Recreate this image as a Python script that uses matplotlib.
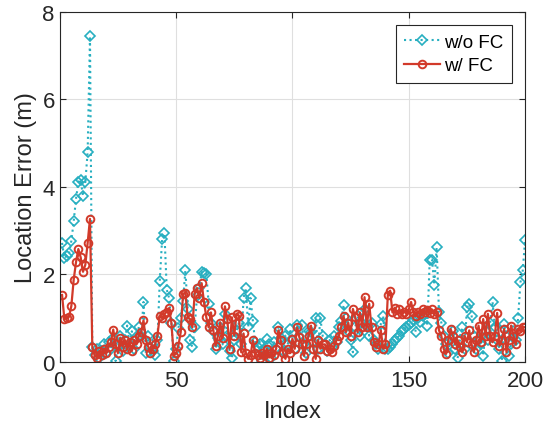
import numpy as np
import matplotlib.pyplot as plt

plt.rcParams['font.family'] = ['Liberation Sans', 'DejaVu Sans']

idx = np.arange(1, 201)

# location error without fusion correction
err_wo = [2.72, 2.37, 2.42, 2.48, 2.77, 3.21, 3.73, 4.11, 4.16, 3.79,
          4.11, 4.80, 7.45, 0.34, 0.15, 0.30, 0.10, 0.25, 0.40, 0.20,
          0.45, 0.30, 0.55, 0.02, 0.35, 0.60, 0.25, 0.50, 0.83, 0.40,
          0.70, 0.30, 0.55, 0.80, 0.60, 1.37, 0.20, 0.60, 0.35, 0.25,
          0.15, 0.50, 1.86, 2.81, 2.94, 1.65, 1.46, 0.90, 0.02, 0.30,
          0.78, 1.00, 1.40, 2.09, 1.20, 0.49, 0.34, 0.80, 1.50, 1.70,
          2.05, 2.04, 2.02, 1.33, 0.90, 0.70, 0.30, 0.55, 0.80, 0.40,
          1.10, 0.60, 0.25, 0.08, 0.50, 0.70, 0.90, 0.40, 1.46, 1.69,
          0.79, 1.46, 0.94, 0.45, 0.35, 0.40, 0.02, 0.30, 0.52, 0.40,
          0.10, 0.45, 0.30, 0.79, 0.55, 0.25, 0.60, 0.40, 0.75, 0.50,
          0.30, 0.85, 0.60, 0.85, 0.40, 0.20, 0.70, 0.69, 0.45, 1.00,
          0.30, 1.00, 0.60, 0.40, 0.25, 0.50, 0.35, 0.60, 0.45, 0.80,
          0.93, 1.30, 1.00, 0.70, 0.50, 0.22, 0.80, 1.05, 0.60, 0.90,
          1.21, 0.85, 0.60, 0.90, 0.50, 0.40, 0.30, 0.87, 1.06, 0.30,
          0.30, 0.35, 0.40, 0.50, 0.55, 0.60, 0.70, 0.75, 0.80, 0.85,
          0.90, 0.95, 0.69, 1.00, 0.91, 1.05, 1.10, 0.82, 2.32, 2.34,
          1.76, 2.62, 1.13, 0.90, 0.60, 0.40, 0.20, 0.52, 0.70, 0.30,
          0.08, 0.50, 0.79, 0.30, 1.25, 1.33, 1.06, 0.60, 0.30, 0.50,
          0.40, 0.14, 0.70, 0.50, 0.90, 1.38, 0.80, 0.50, 0.30, 0.02,
          0.87, 0.60, 0.14, 0.40, 0.70, 0.50, 1.00, 1.82, 2.09, 2.78]

# location error with fusion correction
err_w = [1.53, 0.98, 1.00, 1.03, 1.28, 1.88, 2.28, 2.58, 2.39, 2.06,
         2.22, 2.72, 3.27, 0.34, 0.15, 0.10, 0.25, 0.15, 0.30, 0.20,
         0.35, 0.45, 0.74, 0.40, 0.20, 0.55, 0.35, 0.50, 0.30, 0.45,
         0.25, 0.50, 0.40, 0.60, 0.68, 0.95, 0.50, 0.35, 0.20, 0.30,
         0.40, 0.60, 1.06, 1.00, 1.09, 1.15, 1.23, 0.89, 0.14, 0.20,
         0.37, 0.68, 1.56, 1.58, 1.02, 0.98, 0.79, 1.56, 1.69, 1.46,
         1.80, 1.37, 1.02, 0.79, 1.13, 0.73, 0.37, 0.60, 0.90, 0.55,
         1.27, 0.98, 0.30, 1.02, 0.60, 1.10, 1.06, 0.22, 0.65, 0.20,
         0.07, 0.15, 0.49, 0.20, 0.15, 0.10, 0.20, 0.15, 0.30, 0.10,
         0.20, 0.15, 0.30, 0.72, 0.49, 0.20, 0.07, 0.30, 0.20, 0.53,
         0.30, 0.79, 0.56, 0.40, 0.14, 0.40, 0.60, 0.83, 0.30, 0.07,
         0.50, 0.30, 0.40, 0.40, 0.25, 0.30, 0.22, 0.37, 0.50, 0.60,
         0.80, 1.05, 0.68, 0.90, 0.60, 1.21, 1.02, 0.68, 1.13, 0.80,
         1.48, 0.79, 1.33, 0.79, 0.45, 0.34, 0.40, 0.72, 0.30, 0.40,
         1.52, 1.63, 1.13, 1.24, 1.09, 1.20, 1.09, 1.15, 1.10, 1.20,
         1.37, 1.13, 1.06, 1.13, 1.10, 1.20, 1.15, 1.18, 1.12, 1.20,
         1.10, 1.15, 0.72, 0.60, 0.30, 0.18, 0.50, 0.75, 0.60, 0.40,
         0.50, 0.35, 0.22, 0.60, 0.45, 0.72, 0.40, 0.22, 0.50, 0.83,
         0.45, 0.98, 0.60, 1.10, 0.60, 0.45, 0.60, 1.12, 0.37, 0.50,
         0.75, 0.22, 0.50, 0.83, 0.60, 0.40, 0.75, 0.70, 0.80, 0.79]

blue = '#27AFC0'
red = '#D23A2A'
txt = '#262626'

fig = plt.figure(figsize=(5.43, 4.31), dpi=100)
ax = fig.add_axes([0.110, 0.158, 0.857, 0.812])

ax.plot(idx, err_wo, ':', color=blue, lw=1.5, marker='D', ms=5,
        mfc='none', mew=1.2, label='w/o FC')
ax.plot(idx, err_w, '-', color=red, lw=1.6, marker='o', ms=5.5,
        mfc='none', mew=1.4, label='w/ FC')

ax.set_xlim(0, 200)
ax.set_ylim(0, 8)
ax.set_xticks([0, 50, 100, 150, 200])
ax.set_yticks([0, 2, 4, 6, 8])
ax.grid(True, color='#dfdfdf', lw=0.8)
ax.set_axisbelow(True)
ax.tick_params(direction='in', length=4, labelsize=16, colors=txt,
               top=True, right=True)
ax.tick_params(axis='x', pad=6)
for s in ax.spines.values():
    s.set_color(txt)
    s.set_linewidth(0.8)

ax.set_xlabel('Index', fontsize=17, color=txt, labelpad=6)
ax.set_ylabel('Location Error (m)', fontsize=17, color=txt, labelpad=4)

leg = ax.legend(loc='upper right', fontsize=13.5, fancybox=False,
                framealpha=1, edgecolor=txt, borderaxespad=0.7,
                handlelength=1.9, handletextpad=0.25, borderpad=0.45,
                labelspacing=0.35)
leg.get_frame().set_linewidth(0.8)

fig.savefig('out.png', dpi=100)
